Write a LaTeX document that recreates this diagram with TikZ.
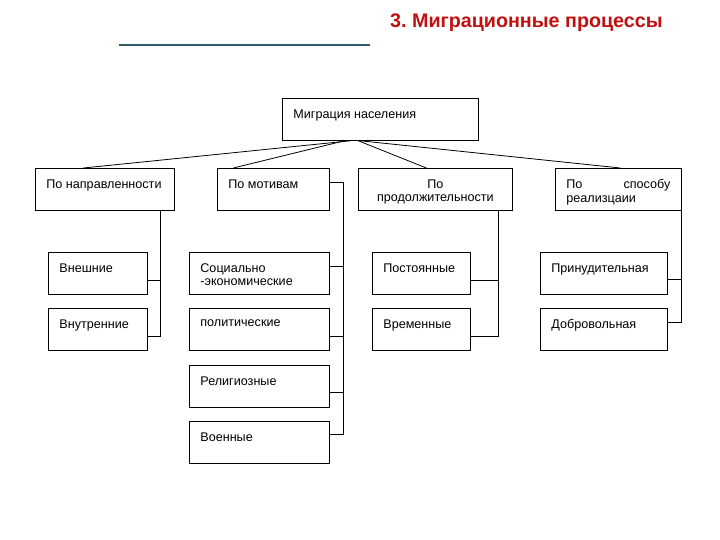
\documentclass[tikz,border=0pt]{standalone}
\usepackage{fontspec}
\setmainfont{Liberation Sans}
\usetikzlibrary{calc}
\frenchspacing
\definecolor{titlered}{RGB}{192,16,16}
\definecolor{rulecol}{RGB}{50,90,105}
\newcommand\bxt[4]{\parbox[c][#2][t]{#1}{\vspace*{11pt}\hspace*{11pt}\parbox[t]{\dimexpr#1-22pt\relax}{#3#4}}}
\tikzset{
  box/.style={draw=black, line width=0.8pt, inner sep=0pt, anchor=north west,
    font=\fontsize{12.6}{13.5}\selectfont},
  conn/.style={draw=black, line width=0.8pt},
}
\begin{document}
\begin{tikzpicture}[x=1pt,y=-1pt]
\useasboundingbox (0,0) rectangle (720,540);
\node[anchor=base west, inner sep=0pt, text=titlered, font=\fontsize{19.7}{22}\selectfont\bfseries] (title) at (390,27.5) {3. Миграционные процессы};
\draw[rulecol, line width=1.3pt] (119,45) -- (370,45);

\node[box] (top) at (282,98) {\bxt{196pt}{42pt}{\raggedright}{Миграция населения}};

\node[box] (b1) at (35,168) {\bxt{139pt}{42pt}{\raggedright}{По направленности}};
\node[box] (b2) at (217,168) {\bxt{112pt}{42pt}{\raggedright}{По мотивам}};
\node[box] (b3) at (358,168) {\bxt{154pt}{42pt}{\centering}{По\\продолжительности}};
\node[box] (b4) at (555,168) {\bxt{126pt}{42pt}{\raggedright}{По\hfill способу\\реализцаии}};

\node[box] (c1) at (48,252) {\bxt{99pt}{42pt}{\raggedright}{Внешние}};
\node[box] (c2) at (48,308) {\bxt{99pt}{42pt}{\raggedright}{Внутренние}};

\node[box] (m1) at (189,252) {\bxt{140pt}{42pt}{\raggedright}{Социально\\-экономические}};
\node[box] (m2) at (189,308) {\bxt{140pt}{42pt}{\raggedright}{политические}};
\node[box] (m3) at (189,365) {\bxt{140pt}{42pt}{\raggedright}{Религиозные}};
\node[box] (m4) at (189,421) {\bxt{140pt}{42pt}{\raggedright}{Военные}};

\node[box] (d1) at (372,252) {\bxt{98pt}{42pt}{\raggedright}{Постоянные}};
\node[box] (d2) at (372,308) {\bxt{98pt}{42pt}{\raggedright}{Временные}};

\node[box] (r1) at (540,252) {\bxt{127pt}{42pt}{\raggedright}{Принудительная}};
\node[box] (r2) at (540,308) {\bxt{127pt}{42pt}{\raggedright}{Добровольная}};

% top level connectors
\draw[conn] ([xshift=-30pt]top.south) -- ([xshift=-21.5pt]b1.north);
\draw[conn] ([xshift=-36pt]top.south) -- ([xshift=-40pt]b2.north);
\draw[conn] ([xshift=-22pt]top.south) -- ([xshift=-9pt]b3.north);
\draw[conn] ([xshift=-20pt]top.south) -- ([xshift=2pt]b4.north);

% direction
\draw[conn] ([xshift=-14pt]b1.south east) |- ([yshift=-6.5pt]c2.east);
\draw[conn] ([yshift=-7pt]c1.east) -- ++(13,0);

% motives
\draw[conn] ([yshift=7pt]b2.east) -- ++(14,0) |- ([yshift=8pt]m4.east);
\draw[conn] ([yshift=7pt]m1.east) -- ++(14,0);
\draw[conn] ([yshift=-7pt]m2.east) -- ++(14,0);
\draw[conn] ([yshift=-6pt]m3.east) -- ++(14,0);

% duration
\draw[conn] ([xshift=-14pt]b3.south east) |- ([yshift=-6.5pt]d2.east);
\draw[conn] ([yshift=-7pt]d1.east) -- ++(28,0);

% realization
\draw[conn] (b4.south east) |- ([yshift=7pt]r2.east);
\draw[conn] ([yshift=-6pt]r1.east) -- ++(14,0);
\end{tikzpicture}
\end{document}
